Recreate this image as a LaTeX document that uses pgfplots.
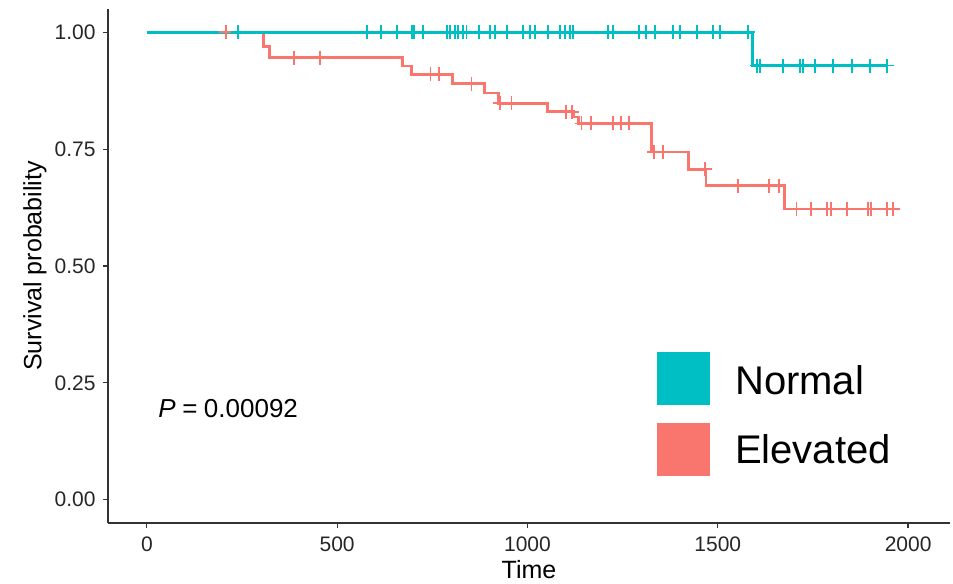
\documentclass[border=0pt]{standalone}
\usepackage{pgfplots}
\pgfplotsset{compat=1.18}
\usepackage{fontspec}
\setmainfont{Liberation Sans}
\definecolor{normalc}{HTML}{00BFC4}
\definecolor{elevc}{HTML}{F8766D}
\definecolor{axc}{HTML}{333333}
\begin{document}
\begin{tikzpicture}
\begin{axis}[
  scale only axis, width=842pt, height=514pt,
  xmin=-102, xmax=2110, ymin=-0.05, ymax=1.05,
  axis lines*=left,
  axis line style={axc, line width=1.6pt, -},
  xtick={0,500,1000,1500,2000},
  ytick={0,0.25,0.5,0.75,1},
  tick align=outside, major tick length=5pt,
  tick style={axc, line width=1.3pt},
  /pgf/number format/assume math mode=true,
  yticklabel style={/pgf/number format/.cd, fixed, fixed zerofill, precision=2, /tikz/.cd, xshift=-4pt},
  xticklabel style={/pgf/number format/.cd, 1000 sep={}, /tikz/.cd, yshift=-5pt},
  ticklabel style={font=\fontsize{21}{25}\selectfont, text=black!85},
  xlabel={Time}, ylabel={Survival probability},
  label style={font=\fontsize{25}{30}\selectfont},
  xlabel style={at={(axis description cs:0.5,-0.0914)}, anchor=center},
  ylabel style={at={(axis description cs:-0.0867,0.5)}, anchor=center},
  clip mode=individual,
]
% invisible frame to fix the picture's proportions
\path (rel axis cs:-0.1283,-0.1187) rectangle (rel axis cs:1.0036,1.0175);

% Elevated survival curve
\addplot[const plot, elevc, line width=2.8pt] coordinates {
  (0,1) (307,0.970) (323,0.946) (671,0.928) (695,0.910) (803,0.890)
  (888,0.870) (923,0.848) (1053,0.830) (1120,0.819) (1135,0.805)
  (1326,0.744) (1423,0.707) (1469,0.672) (1676,0.622) (1965,0.622)
};
% Normal survival curve
\addplot[const plot, normalc, line width=2.8pt] coordinates {
  (0,1) (1592,0.929) (1944,0.929)
};

% Censor marks, Elevated
\addplot[only marks, mark=+, mark size=7pt, elevc, line width=1.8pt] coordinates {
  (208,1)
  (387,0.946) (455,0.946)
  (745,0.910) (768,0.910)
  (853,0.890)
  (928,0.848) (958,0.848)
  (1101,0.830) (1116,0.830)
  (1142,0.805) (1167,0.805) (1225,0.805) (1245,0.805) (1267,0.805)
  (1332,0.744) (1355,0.744)
  (1466,0.707)
  (1554,0.672) (1635,0.672) (1661,0.672)
  (1707,0.622) (1744,0.622) (1786,0.622) (1797,0.622) (1839,0.622)
  (1894,0.622) (1902,0.622) (1944,0.622) (1960,0.622)
};
% Censor marks, Normal
\addplot[only marks, mark=+, mark size=7pt, normalc, line width=1.8pt] coordinates {
  (239,1) (578,1) (615,1) (657,1) (696,1) (701,1) (725,1) (788,1) (796,1)
  (809,1) (817,1) (830,1) (840,1) (872,1) (901,1) (914,1) (946,1) (988,1)
  (1006,1) (1019,1) (1054,1) (1085,1) (1098,1) (1111,1) (1119,1) (1211,1)
  (1224,1) (1293,1) (1311,1) (1335,1) (1382,1) (1400,1) (1445,1) (1487,1)
  (1506,1) (1579,1)
  (1603,0.929) (1611,0.929) (1671,0.929) (1716,0.929) (1724,0.929)
  (1755,0.929) (1802,0.929) (1852,0.929) (1900,0.929) (1944,0.929)
};

% p-value
\node[anchor=west, font=\fontsize{26}{31}\selectfont, inner sep=0pt]
  at (axis cs:30,0.194) {\textit{P}\hspace{0.25em}=\hspace{0.25em}0.00092};

% legend
\fill[normalc] (axis cs:1340,0.316) rectangle (axis cs:1479,0.203);
\fill[elevc] (axis cs:1340,0.1645) rectangle (axis cs:1479,0.0513);
\node[anchor=west, font=\fontsize{40}{48}\selectfont, inner sep=0pt]
  at (axis cs:1545,0.256) {Normal};
\node[anchor=west, font=\fontsize{40}{48}\selectfont, inner sep=0pt]
  at (axis cs:1545,0.107) {Elevated};
\end{axis}
\end{tikzpicture}
\end{document}
